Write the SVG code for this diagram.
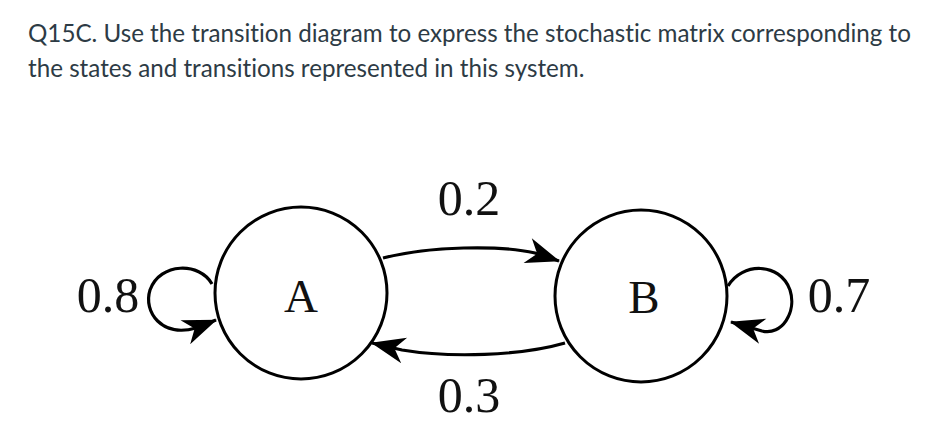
<svg xmlns="http://www.w3.org/2000/svg" width="950" height="434" viewBox="0 0 950 434">
<defs>
<style>
.title{font-family:Lato,"Noto Sans",sans-serif;font-size:24.2px;fill:#2d3b45;font-variant-ligatures:none;font-feature-settings:"liga" 0}
.lbl{font-family:"Liberation Serif",serif;font-size:50px;fill:#111}
.nl{font-family:"Liberation Serif",serif;font-size:47px;fill:#111}
.node{fill:#fff;stroke:#000;stroke-width:3}
.edge{fill:none;stroke:#000;stroke-width:3.2}
</style>
<marker id="ah" markerUnits="userSpaceOnUse" markerWidth="42" markerHeight="32" viewBox="-36 -16 42 32" refX="0" refY="0" orient="auto">
<path d="M1,0 L-33,-13 L-23,0 L-33,13 Z" fill="#000"/>
</marker>
</defs>
<rect width="950" height="434" fill="#fff"/>
<text class="title" x="28" y="42">Q15C. Use the transition diagram to express the stochastic matrix corresponding to</text>
<text class="title" x="28" y="77">the states and transitions represented in this system.</text>
<g id="connectors">
<path class="edge" d="M383,258 C430,246 500,245 535,253 L559,261" marker-end="url(#ah)"/>
<path class="edge" d="M565,343 C520,356 450,358 402,350 L372,343" marker-end="url(#ah)"/>
<path class="edge" d="M212,284 C200,262 160,262 150,290 C143,312 162,338 196,328 L216,320" marker-end="url(#ah)"/>
<path class="edge" d="M728,286 C742,262 780,262 790,290 C797,312 782,336 762,331 L731,322" marker-end="url(#ah)"/>
</g>
<g id="node-A">
<circle class="node" cx="301" cy="293" r="86"/>
<text class="nl" x="301" y="312" text-anchor="middle">A</text>
</g>
<g id="node-B">
<circle class="node" cx="641" cy="296" r="86"/>
<text class="nl" x="644" y="313" text-anchor="middle">B</text>
</g>
<g id="labels">
<text class="lbl" x="108" y="312" text-anchor="middle">0.8</text>
<text class="lbl" x="469" y="215" text-anchor="middle">0.2</text>
<text class="lbl" x="469" y="412" text-anchor="middle">0.3</text>
<text class="lbl" x="839" y="312" text-anchor="middle">0.7</text>
</g>
</svg>
